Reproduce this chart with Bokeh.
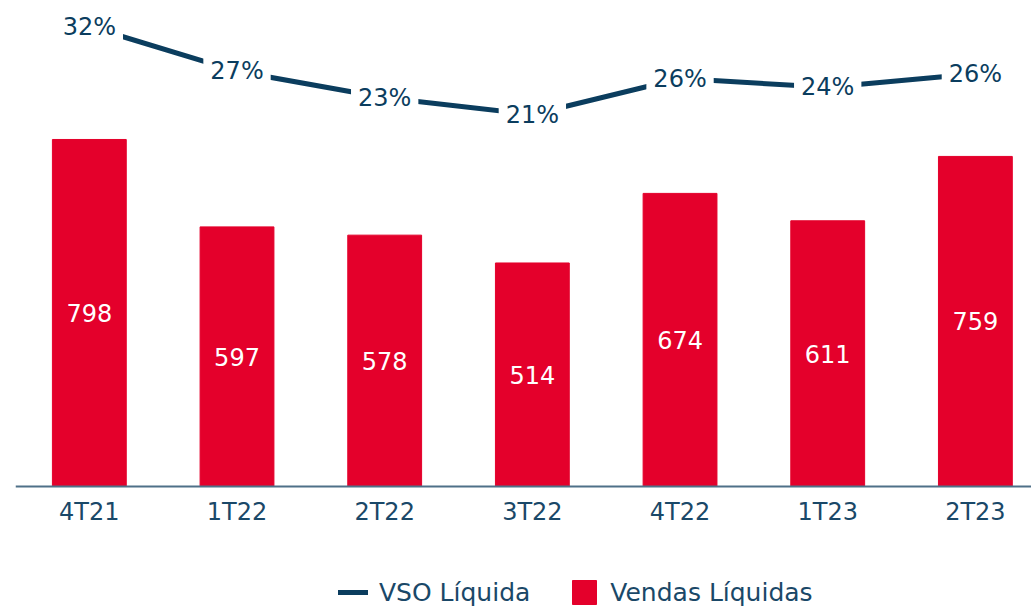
from bokeh.plotting import figure
from bokeh.models import (Range1d, FixedTicker, ColumnDataSource,
                          Legend, LegendItem)
from bokeh.core.properties import value
from bokeh.embed import file_html
from bokeh.resources import INLINE

categories = ["4T21", "1T22", "2T22", "3T22", "4T22", "1T23", "2T23"]
vendas = [798, 597, 578, 514, 674, 611, 759]
vso = [32.0, 26.4, 23.1, 21.0, 25.5, 24.4, 26.1]
vso_labels = ["32%", "27%", "23%", "21%", "26%", "24%", "26%"]

RED = "#e4002b"
NAVY = "#0b3d5e"
TEXT = "#1a4868"
FONT = "DejaVu Sans"

xs = [i + 0.5 for i in range(len(categories))]
src = ColumnDataSource(dict(
    x=xs, vendas=vendas, mid=[v / 2 for v in vendas],
    vlab=[str(v) for v in vendas], vso=vso, vso_lab=vso_labels))

p = figure(width=1031, height=606, output_backend="svg", toolbar_location=None,
           x_range=Range1d(0, 6.88), y_range=Range1d(-276.0, 1117.6),
           min_border_left=15, min_border_right=0, min_border_top=0,
           min_border_bottom=0)
p.extra_y_ranges = {"vso": Range1d(-40.5, 35.25)}
p.outline_line_color = None
p.xgrid.visible = False
p.ygrid.visible = False
p.yaxis.visible = False
p.background_fill_color = "white"
p.border_fill_color = "white"

bars = p.vbar(x="x", top="vendas", width=0.5, source=src, color=RED)
p.text(x="x", y="mid", text="vlab", source=src, text_color="white",
       text_font=value(FONT), text_font_size="24px",
       text_align="center", text_baseline="middle")

line = p.line(x="x", y="vso", source=src, y_range_name="vso",
              line_color=NAVY, line_width=5, line_cap="round")
p.text(x="x", y="vso", text="vso_lab", source=src, y_range_name="vso",
       text_color=NAVY, text_font=value(FONT), text_font_size="24px",
       text_align="center", text_baseline="middle",
       background_fill_color="white", padding=7)

ax = p.xaxis[0]
ax.fixed_location = 0
ax.ticker = FixedTicker(ticks=xs)
ax.major_label_overrides = {x: c for x, c in zip(xs, categories)}
ax.major_tick_line_color = None
ax.minor_tick_line_color = None
ax.axis_line_color = "#4f7088"
ax.axis_line_width = 2
ax.major_label_text_font = FONT
ax.major_label_text_font_size = "24px"
ax.major_label_text_color = TEXT
ax.major_label_standoff = 6

leg = Legend(items=[LegendItem(label="VSO Líquida", renderers=[line]),
                    LegendItem(label="Vendas Líquidas", renderers=[bars])],
             location=(323, -1), orientation="horizontal",
             glyph_width=30, glyph_height=30, label_height=30,
             label_standoff=11, padding=0, margin=0, spacing=39,
             border_line_color=None, background_fill_alpha=0,
             label_text_font=FONT, label_text_font_size="25px",
             label_text_color=TEXT, label_text_baseline="middle")
p.add_layout(leg)

open("out.html", "w").write(file_html(p, INLINE))
